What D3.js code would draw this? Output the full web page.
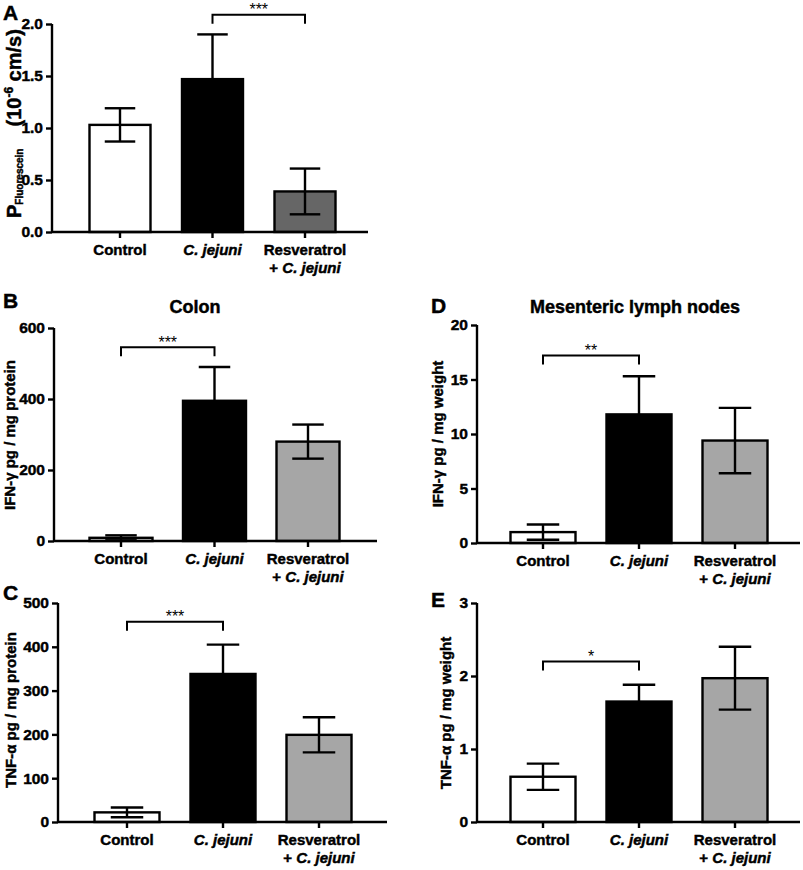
<!DOCTYPE html>
<html><head><meta charset="utf-8">
<script src="https://cdn.jsdelivr.net/npm/d3@7"></script>
<style>
body{margin:0;background:#fff;}
svg text{font-family:"Liberation Sans",Arial,sans-serif;}
.heavy{stroke:#000;stroke-width:0.45px;}
</style></head>
<body>
<svg id="c" width="803" height="870"></svg>
<script>
// ---- data ----
const categories = ["Control", "C. jejuni", "Resveratrol + C. jejuni"];
const aMeans = [1.03, 1.47, 0.39];
const aErr   = [0.16, 0.43, 0.22];
const aTicks = [0, 0.5, 1.0, 1.5, 2.0];
const bMeans = [9, 395, 280];
const bErr   = [7, 95, 48];
const bTicks = [0, 200, 400, 600];
const cMeans = [22, 338, 199];
const cErr   = [11, 67, 40];
const cTicks = [0, 100, 200, 300, 400, 500];
const dMeans = [1.0, 11.8, 9.4];
const dErr   = [0.7, 3.5, 3.0];
const dTicks = [0, 5, 10, 15, 20];
const eMeans = [0.62, 1.65, 1.97];
const eErr   = [0.18, 0.23, 0.43];
const eTicks = [0, 1, 2, 3];
const sig = [
  {panel:"A", from:1, to:2, level:2.09, label:"***"},
  {panel:"B", from:0, to:1, level:546, label:"***"},
  {panel:"C", from:0, to:1, level:457, label:"***"},
  {panel:"D", from:0, to:1, level:17.2, label:"**"},
  {panel:"E", from:0, to:1, level:2.2, label:"*"}
];

const svg = d3.select("#c");
const LW = 2.4;

function panel(o){
  const g = svg.append("g");
  const y = d3.scaleLinear().domain(o.domain).range([o.y0, o.yTop]);
  const step = o.step;
  const x = d3.scaleBand().domain(categories)
     .range([o.c0 - step/2, o.c0 - step/2 + 3*step])
     .paddingInner(1 - o.bw/step).paddingOuter((1 - o.bw/step)/2);
  const data = categories.map((c,i)=>({c, v:o.means[i], e:o.err[i], fill:o.fills[i]}));
  // bars
  g.selectAll("rect.bar").data(data).join("rect")
    .attr("x", d=>x(d.c)).attr("width", x.bandwidth())
    .attr("y", d=>y(d.v)).attr("height", d=>y(0)-y(d.v))
    .attr("fill", d=>d.fill).attr("stroke","#000").attr("stroke-width",LW);
  // error bars
  const cap = x.bandwidth()*0.25;
  const eb = g.selectAll("g.eb").data(data).join("g");
  const cx = d=>x(d.c)+x.bandwidth()/2;
  eb.append("line").attr("x1",cx).attr("x2",cx)
    .attr("y1",d=>y(d.v-d.e)).attr("y2",d=>y(d.v+d.e)).attr("stroke","#000").attr("stroke-width",LW);
  eb.append("line").attr("x1",d=>cx(d)-cap).attr("x2",d=>cx(d)+cap)
    .attr("y1",d=>y(d.v+d.e)).attr("y2",d=>y(d.v+d.e)).attr("stroke","#000").attr("stroke-width",LW);
  eb.append("line").attr("x1",d=>cx(d)-cap).attr("x2",d=>cx(d)+cap)
    .attr("y1",d=>y(d.v-d.e)).attr("y2",d=>y(d.v-d.e)).attr("stroke","#000").attr("stroke-width",LW);
  // y axis
  const ya = g.append("g").attr("transform",`translate(${o.ax},0)`)
    .call(d3.axisLeft(y).tickValues(o.ticks).tickFormat(d3.format(o.fmt)).tickSize(6).tickPadding(3).tickSizeOuter(0));
  ya.select(".domain").attr("stroke-width",LW).attr("d",`M0,${o.y0}V${o.yTop}`);
  ya.selectAll(".tick line").attr("stroke-width",LW);
  ya.selectAll(".tick text").attr("font-size","15.5px").attr("font-weight","bold").attr("fill","#000")
    .attr("class","heavy").attr("font-family","Liberation Sans, Arial, sans-serif");
  // x axis
  const xa = g.append("g").attr("transform",`translate(0,${o.y0})`)
    .call(d3.axisBottom(x).tickSize(6).tickSizeOuter(0));
  xa.select(".domain").remove();
  g.append("line").attr("x1",o.ax).attr("x2",o.xEnd).attr("y1",o.y0).attr("y2",o.y0)
    .attr("stroke","#000").attr("stroke-width",LW);
  xa.selectAll(".tick line").attr("stroke-width",LW);
  xa.selectAll(".tick text").each(function(d){
    const t = d3.select(this).text(null).attr("font-size","15px").attr("font-weight","bold")
      .attr("fill","#000").attr("class","heavy").attr("font-family","Liberation Sans, Arial, sans-serif")
      .attr("y", 23).attr("dy", null);
    if (d === "Control") t.append("tspan").text("Control");
    else if (d === "C. jejuni") t.append("tspan").attr("font-style","italic").text("C. jejuni");
    else {
      t.append("tspan").attr("x",0).attr("y",23).text("Resveratrol");
      const l2 = t.append("tspan").attr("x",0).attr("y",41);
      l2.append("tspan").text("+ ");
      l2.append("tspan").attr("font-style","italic").text("C. jejuni");
    }
  });
  // significance
  sig.filter(s=>s.panel===o.id).forEach(s=>{
    const x1 = cx({c:categories[s.from]}), x2 = cx({c:categories[s.to]});
    const yy = y(s.level);
    g.append("path").attr("d",`M${x1},${yy+9}V${yy}H${x2}V${yy+9}`)
      .attr("fill","none").attr("stroke","#000").attr("stroke-width",2);
    g.append("text").attr("x",(x1+x2)/2).attr("y",yy+0.5).attr("text-anchor","middle")
      .attr("font-size","16px").text(s.label);
  });
  // panel letter
  g.append("text").attr("x",o.lx).attr("y",o.ly).attr("font-size","21px").attr("font-weight","bold")
    .attr("class","heavy").text(o.id);
  // y label
  const yl = g.append("text").attr("transform",`translate(${o.ylx},${o.yly}) rotate(-90)`)
    .attr("text-anchor", o.anchor || "middle").attr("font-weight","bold").attr("font-size","15px")
    .attr("class","heavy");
  o.ylabel(yl);
  if (o.title) g.append("text").attr("x",o.title.x).attr("y",o.title.y).attr("text-anchor","middle")
    .attr("font-family","Lato, 'Open Sans', sans-serif").attr("font-weight","bold").attr("font-size","18px")
    .attr("class","heavy").text(o.title.t);
}

const fillsA = ["#ffffff","#000000","#666666"];
const fills  = ["#ffffff","#000000","#a6a6a6"];

panel({id:"A", domain:[0,2], ticks:aTicks, fmt:".1f", means:aMeans, err:aErr, fills:fillsA,
  ax:52, y0:232, yTop:24, xEnd:368, c0:120, step:92.5, bw:61, lx:3, ly:20, ylx:21, yly:218, anchor:"start",
  ylabel:t=>{
    t.attr("font-size","20px");
    t.append("tspan").text("P");
    t.append("tspan").attr("font-size","10px").attr("dy",2).text("Fluorescein");
    t.append("tspan").attr("dy",-2).attr("dx",22).text("(10");
    t.append("tspan").attr("font-size","12px").attr("dy",-8).text("-6");
    t.append("tspan").attr("dy",8).text(" cm/s)");
  }});
panel({id:"B", domain:[0,600], ticks:bTicks, fmt:"d", means:bMeans, err:bErr, fills,
  ax:54, y0:541, yTop:328, xEnd:377, c0:121, step:93.5, bw:63, lx:3, ly:308, ylx:15, yly:435,
  title:{t:"Colon", x:195, y:313},
  ylabel:t=>t.text("IFN-γ pg / mg protein")});
panel({id:"C", domain:[0,500], ticks:cTicks, fmt:"d", means:cMeans, err:cErr, fills,
  ax:58, y0:822, yTop:603, xEnd:387, c0:127, step:96, bw:65, lx:3, ly:600, ylx:16, yly:710,
  ylabel:t=>t.text("TNF-α pg / mg protein")});
panel({id:"D", domain:[0,20], ticks:dTicks, fmt:"d", means:dMeans, err:dErr, fills,
  ax:477, y0:543, yTop:325, xEnd:800, c0:543, step:96, bw:65, lx:431, ly:313, ylx:443, yly:434,
  title:{t:"Mesenteric lymph nodes", x:635, y:313},
  ylabel:t=>t.text("IFN-γ pg / mg weight")});
panel({id:"E", domain:[0,3], ticks:eTicks, fmt:"d", means:eMeans, err:eErr, fills,
  ax:477, y0:822, yTop:603, xEnd:800, c0:543, step:96, bw:65, lx:431, ly:607, ylx:451, yly:713,
  ylabel:t=>t.text("TNF-α pg / mg weight")});
</script>
</body></html>
